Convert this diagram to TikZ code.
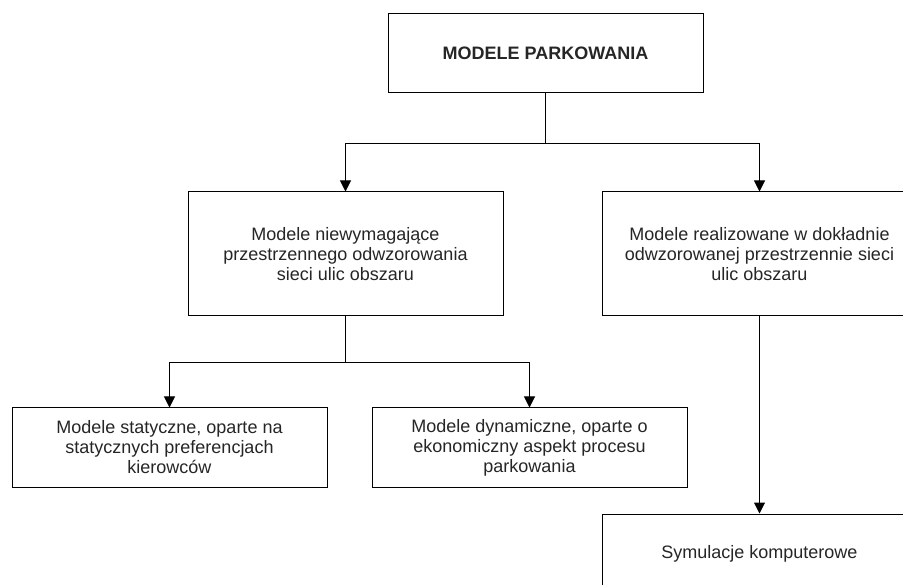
\documentclass[tikz,border=0pt]{standalone}
\usepackage{fontspec}
\setmainfont{Liberation Sans}
\usetikzlibrary{arrows.meta}
\definecolor{txt}{RGB}{38,38,38}
\begin{document}
\begin{tikzpicture}[x=1pt,y=-1pt,
  box/.style={draw=black,line width=1pt,rectangle,minimum width=315pt,align=center,text=txt,inner sep=0pt,
    font=\fontsize{18}{20}\selectfont},
  shortbox/.style={box,minimum height=79pt},
  tallbox/.style={box,minimum height=124pt},
  conn/.style={draw=black,line width=1pt},
  arr/.style={conn,-{Triangle[width=11pt,length=11pt]}}]
\clip (0,0) rectangle (903,585);
\fill[white] (0,0) rectangle (903,585);
\node[shortbox] (top) at (545.5,53.5) {\textbf{MODELE PARKOWANIA}};
\node[tallbox] (midL) at (345.5,254) {Modele niewymagające\\przestrzennego odwzorowania\\sieci ulic obszaru};
\node[tallbox] (midR) at (759.5,254) {Modele realizowane w dokładnie\\odwzorowanej przestrzennie sieci\\ulic obszaru};
\node[shortbox] (botL) at (169.5,447.5) {Modele statyczne, oparte na\\statycznych preferencjach\\kierowców};
\node[shortbox] (botM) at (529.5,447.5) {Modele dynamiczne, oparte o\\ekonomiczny aspekt procesu\\parkowania};
\node[shortbox] (sim) at (759.5,553.5) {Symulacje komputerowe};
\draw[conn] (top.south) -- ++(0,50) coordinate (j1);
\draw[arr] (j1) -| (midL.north);
\draw[arr] (j1) -| (midR.north);
\draw[conn] (midL.south) -- ++(0,46) coordinate (j2);
\draw[arr] (j2) -| (botL.north);
\draw[arr] (j2) -| (botM.north);
\draw[arr] (midR.south) -- (sim.north);
\end{tikzpicture}
\end{document}
